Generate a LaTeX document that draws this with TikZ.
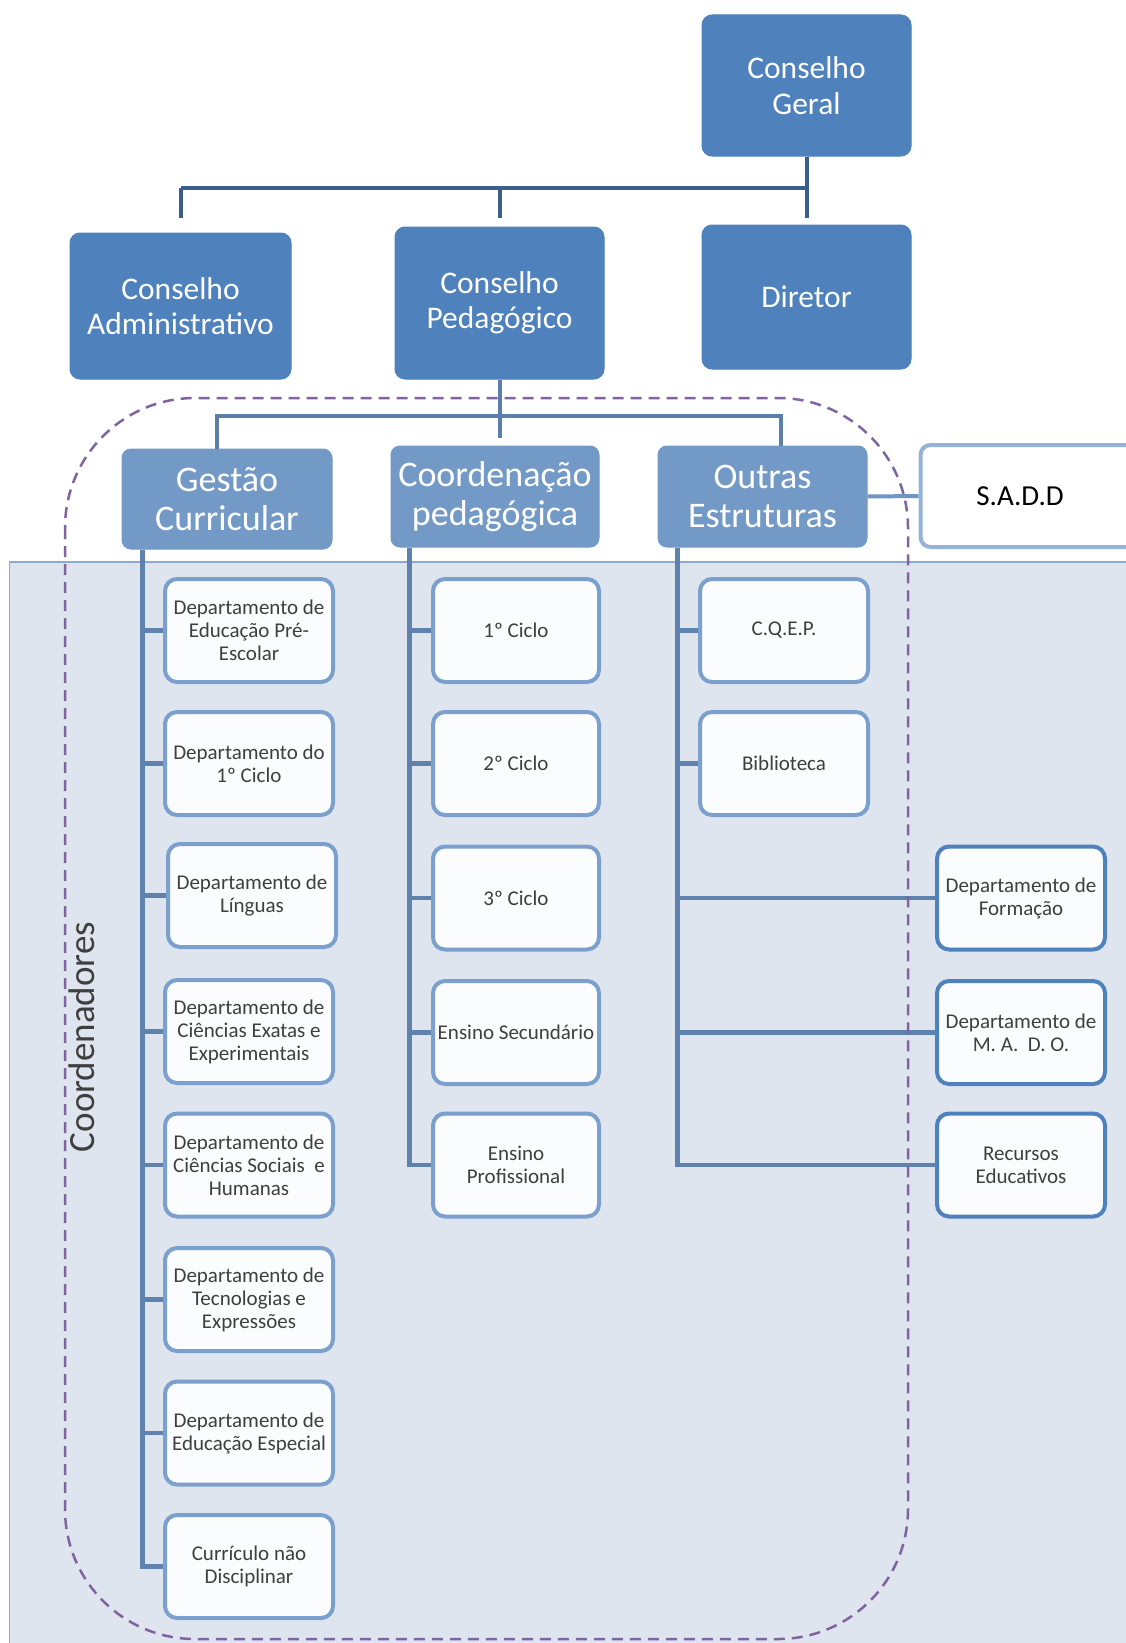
\documentclass[tikz,border=0pt]{standalone}
\usepackage{fontspec}
\setmainfont{Carlito}
\usetikzlibrary{calc}
\definecolor{topblue}{HTML}{4F81BD}
\definecolor{midblue}{HTML}{7399C6}
\definecolor{toplinec}{HTML}{3A5F8D}
\definecolor{midlinec}{HTML}{5B7EAA}
\definecolor{panellinec}{HTML}{5E81AE}
\definecolor{panelfill}{HTML}{DEE5EE}
\definecolor{paneledge}{HTML}{8EAACF}
\definecolor{boxedge}{HTML}{7BA0CD}
\definecolor{boxedgedark}{HTML}{4F81BD}
\definecolor{boxfill}{HTML}{FAFCFE}
\definecolor{txtgray}{HTML}{3F3F3F}
\definecolor{dashpurple}{HTML}{8064A2}
\definecolor{saddedge}{HTML}{95B3D7}
\definecolor{saddline}{HTML}{6F95C4}

\tikzset{
  topbox/.style={rectangle, rounded corners=10pt, fill=topblue, draw=topblue, line width=1pt,
    text=white, align=center, font=\fontsize{31.5}{35.5}\selectfont, inner sep=0pt},
  midbox/.style={rectangle, rounded corners=9pt, fill=midblue, draw=midblue, line width=1pt,
    text=white, align=center, font=\fontsize{36}{38.8}\selectfont, inner sep=0pt},
  leafbox/.style={rectangle, rounded corners=12pt, fill=boxfill, draw=boxedge, line width=4pt,
    text=txtgray, align=center, font=\fontsize{21}{23}\selectfont, inner sep=0pt,
    minimum width=168pt, minimum height=103pt},
  leafdark/.style={leafbox, draw=boxedgedark},
  saddbox/.style={rectangle, rounded corners=10pt, fill=white, draw=saddedge, line width=4pt,
    minimum width=215pt, minimum height=102pt, inner sep=0pt},
  saddtext/.style={text=black, font=\fontsize{29}{32}\selectfont, inner sep=0pt},
  topline/.style={draw=toplinec, line width=4pt},
  midline/.style={draw=midlinec, line width=4pt},
  pline/.style={draw=panellinec, line width=4.5pt},
  dashbox/.style={draw=dashpurple, line width=2.5pt, dash pattern=on 11pt off 7pt, rounded corners=130pt},
  coordlabel/.style={rotate=90, text=txtgray, font=\fontsize{37}{40}\selectfont, inner sep=0pt}
}

\begin{document}
\begin{tikzpicture}[x=1pt, y=-1pt]
\useasboundingbox (0,0) rectangle (1126,1643);
\fill[white] (0,0) rectangle (1126,1643);

% background panel
\draw[fill=panelfill, draw=paneledge, line width=1.5pt] (9.5,562) rectangle (1140,1660);

% top level
\node[topbox, minimum width=209pt, minimum height=141pt] (cg) at (806.5,85.5) {Conselho\\Geral};
\node[topbox, minimum width=221pt, minimum height=146pt] (ca) at (180.5,306) {Conselho\\Administrativo};
\node[topbox, minimum width=209pt, minimum height=152pt] (cp) at (499.5,303) {Conselho\\Pedag\'ogico};
\node[topbox, minimum width=209pt, minimum height=144pt] (dir) at (806.5,297) {Diretor};

% second level
\node[midbox, minimum width=210pt, minimum height=100pt] (gc) at (227,499) {Gestão\\Curricular};
\node[midbox, minimum width=208pt, minimum height=101pt] (cop) at (495,496.5) {Coordenação\\pedagógica};
\node[midbox, minimum width=209pt, minimum height=101pt] (oe) at (762.5,496.5) {Outras\\Estruturas};
\node[saddbox] (sadd) at (1028,496) {};
\node[saddtext] (saddtxt) at ($(sadd.center)+(-8,0)$) {S.A.D.D};

% top connectors
\coordinate (bus1) at (500,188);
\draw[topline] (ca.north |- bus1) -- (cg.south |- bus1);
\draw[topline, shorten >=15pt] (ca.north |- bus1) -- (ca.north);
\draw[topline, shorten >=9pt] (cp.north |- bus1) -- (cp.north);
\draw[topline, shorten >=7pt] (cg.south) -- (dir.north);

% second connectors
\coordinate (b2l) at (217,416);
\coordinate (b2r) at (781,416);
\draw[midline, shorten >=8pt] (cp.south) -- (cp.south |- cop.north);
\draw[midline] (gc.north -| b2l) -- (b2l) -- (b2r) -- (oe.north -| b2r);
\draw[draw=saddline, line width=4pt] (oe.east) -- (sadd.west);

% leaves column 1
\node[leafbox] (l1) at (249,630.5) {Departamento de\\Educação Pré-\\Escolar};
\node[leafbox] (l2) at (249,763.5) {Departamento do\\1º Ciclo};
\node[leafbox] (l3) at (252,895.5) {Departamento de\\Línguas};
\node[leafbox] (l4) at (249,1031.5) {Departamento de\\Ciências Exatas e\\Experimentais};
\node[leafbox] (l5) at (249,1165) {Departamento de\\Ciências Sociais\ \ e\\Humanas};
\node[leafbox] (l6) at (249,1299.5) {Departamento de\\Tecnologias e\\Expressões};
\node[leafbox] (l7) at (249,1433) {Departamento de\\Educação Especial};
\node[leafbox] (l8) at (249,1566.5) {Currículo não\\Disciplinar};

% leaves column 2
\node[leafbox, minimum width=166pt] (m1) at (516,630.5) {1º Ciclo};
\node[leafbox, minimum width=166pt] (m2) at (516,763.5) {2º Ciclo};
\node[leafbox, minimum width=166pt] (m3) at (516,898) {3º Ciclo};
\node[leafbox, minimum width=166pt] (m4) at (516,1032.5) {Ensino Secundário};
\node[leafbox, minimum width=166pt] (m5) at (516,1165) {Ensino\\Profissional};

% leaves column 3
\node[leafbox] (r1) at (784,630.5) {C.Q.E.P.};
\node[leafbox] (r2) at (784,763.5) {Biblioteca};
\node[leafdark] (f1) at (1021,898) {Departamento de\\Formação};
\node[leafdark] (f2) at (1021,1032.5) {Departamento de\\M. A.\ \ D. O.};
\node[leafdark] (f3) at (1021,1165) {Recursos\\Educativos};

% panel connectors
\coordinate (v1) at (142.5,0);
\coordinate (v2) at (409.5,0);
\coordinate (v3) at (677.5,0);
\draw[pline] (gc.south -| v1) -- (l8.west -| v1) -- (l8.west);
\foreach \n in {l1,l2,l3,l4,l5,l6,l7} \draw[pline] (\n.west -| v1) -- (\n.west);
\draw[pline] (cop.south -| v2) -- (m5.west -| v2) -- (m5.west);
\foreach \n in {m1,m2,m3,m4} \draw[pline] (\n.west -| v2) -- (\n.west);
\draw[pline] (oe.south -| v3) -- (f3.west -| v3) -- (f3.west);
\foreach \n in {r1,r2,f1,f2} \draw[pline] (\n.west -| v3) -- (\n.west);

% dashed group
\draw[dashbox] (65,398) rectangle (908,1639);

\node[coordlabel] (coord) at (82,1037) {Coordenadores};
\end{tikzpicture}
\end{document}
